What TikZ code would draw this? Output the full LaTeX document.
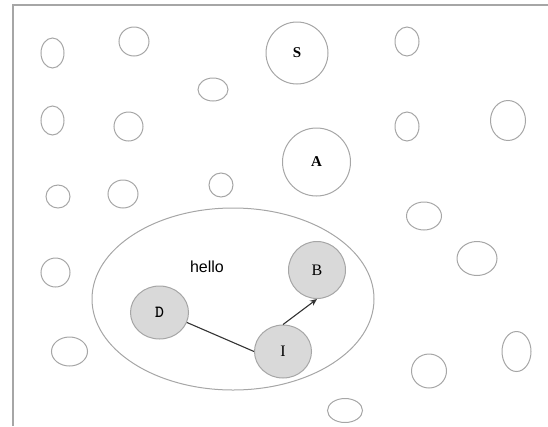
\documentclass[tikz,border=0pt]{standalone}
\usepackage{fontspec}
\setmainfont{Liberation Serif}
\newfontfamily\arialfam{Liberation Sans}
\usetikzlibrary{shapes.geometric,arrows.meta}
\definecolor{rimgray}{HTML}{A6A6A6}
\definecolor{nodefill}{HTML}{D9D9D9}
\definecolor{linkgray}{HTML}{333333}
\tikzset{
  blob/.style={ellipse, draw=rimgray, line width=1pt, inner sep=0pt},
  keynode/.style={ellipse, draw=rimgray, line width=1pt, fill=nodefill, inner sep=0pt,
                  font=\fontsize{16}{19}\selectfont},
  biglabel/.style={ellipse, draw=rimgray, line width=1pt, inner sep=0pt,
                   font=\bfseries\fontsize{15}{18}\selectfont},
  link/.style={draw=linkgray, line width=1.1pt},
}
\newcommand{\blobat}[5]{\node[blob, minimum width=#4pt, minimum height=#5pt] (#1) at (#2,#3) {};}
\begin{document}
\begin{tikzpicture}[x=1pt,y=-1pt]
  \useasboundingbox (0,0) rectangle (548,426);
  % frame edges
  \draw[color=rimgray, line width=1.5pt] (13,426) -- (13,5) -- (548,5);

  % scattered empty ellipses
  \blobat{e1}{52.5}{53}{23}{30}
  \blobat{e2}{134}{41.5}{30}{29}
  \blobat{e3}{213}{89.5}{30}{23}
  \blobat{e4}{52.5}{120.5}{23}{29}
  \blobat{e5}{128.5}{126.5}{29}{29}
  \blobat{e6}{221}{185}{24}{24}
  \blobat{e7}{58}{196.5}{24}{23}
  \blobat{e8}{123}{194}{30}{28}
  \blobat{e9}{407}{41.5}{24}{29}
  \blobat{e10}{407}{126.5}{24}{29}
  \blobat{e11}{508}{120.5}{35}{40}
  \blobat{e12}{424}{216}{35}{28}
  \blobat{e13}{477}{258.5}{40}{34}
  \blobat{e14}{516.5}{351.5}{29}{40}
  \blobat{e15}{429}{371}{35}{34}
  \blobat{e16}{345}{410.5}{35}{24}
  \blobat{e17}{55.5}{272.5}{29}{29}
  \blobat{e18}{69.5}{351.5}{36}{29}

  % labelled circles
  \node[biglabel, minimum width=62pt, minimum height=62pt] (S) at (297,53) {S};
  \node[biglabel, minimum width=68pt, minimum height=68pt] (A) at (316.5,162) {A};

  % group ellipse
  \node[blob, minimum width=282pt, minimum height=182pt] (grp) at (233,299) {};
  \node[font=\arialfam\fontsize{16}{19}\selectfont, inner sep=0pt] (hello) at (207,267) {hello};

  % grey nodes inside the group
  \node[keynode, font=\ttfamily\bfseries\fontsize{17}{20}\selectfont, minimum width=58pt, minimum height=53pt] (D) at (159.5,312.5) {D};
  \node[keynode, minimum width=57pt, minimum height=57pt] (B) at (317,270) {B};
  \node[keynode, minimum width=57pt, minimum height=53pt] (I) at (283,351.5) {I};

  % connections
  \draw[link] (D.-20) -- (I.west);
  \draw[link, -{Stealth[length=7pt,width=6pt]}] (I.north) -- (B.south);
\end{tikzpicture}
\end{document}
